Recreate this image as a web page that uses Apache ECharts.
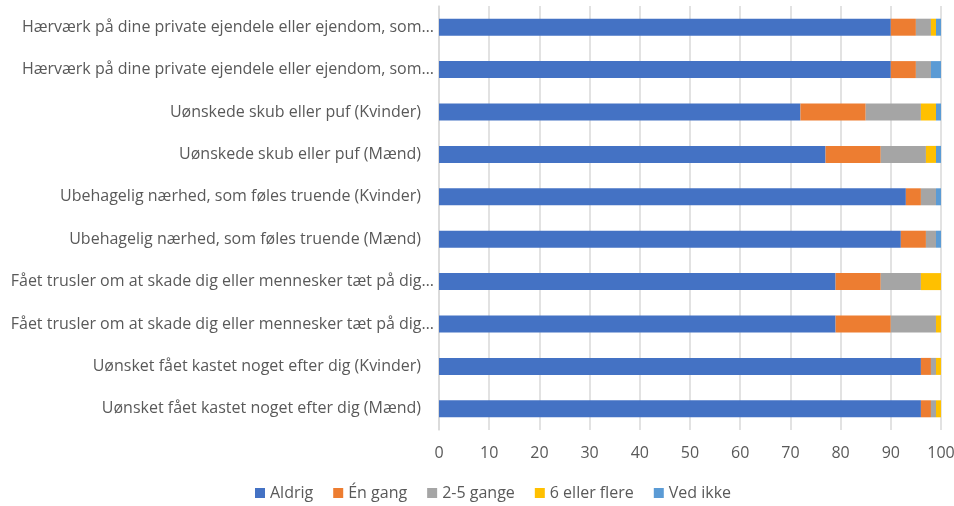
<!DOCTYPE html>
<html>
<head>
<meta charset="utf-8">
<script src="https://cdn.jsdelivr.net/npm/echarts@6/dist/echarts.min.js"></script>
<style>
html,body{margin:0;padding:0;background:#fff;}
#main{width:954px;height:506px;}
</style>
</head>
<body>
<div id="main"></div>
<script>
// kategorier, oppefra og ned
var categories = [
	'Hærværk på dine private ejendele eller ejendom, som…',
	'Hærværk på dine private ejendele eller ejendom, som…',
	'Uønskede skub eller puf (Kvinder)',
	'Uønskede skub eller puf (Mænd)',
	'Ubehagelig nærhed, som føles truende (Kvinder)',
	'Ubehagelig nærhed, som føles truende (Mænd)',
	'Fået trusler om at skade dig eller mennesker tæt på dig…',
	'Fået trusler om at skade dig eller mennesker tæt på dig…',
	'Uønsket fået kastet noget efter dig (Kvinder)',
	'Uønsket fået kastet noget efter dig (Mænd)'
];
var seriesNames = ['Aldrig', 'Én gang', '2-5 gange', '6 eller flere', 'Ved ikke'];
var aldrig     = [90, 90, 72, 77, 93, 92, 79, 79, 96, 96];
var enGang     = [5, 5, 13, 11, 3, 5, 9, 11, 2, 2];
var toFemGange = [3, 3, 11, 9, 3, 2, 8, 9, 1, 1];
var seksFlere  = [1, 0, 3, 2, 0, 0, 4, 1, 1, 1];
var vedIkke    = [1, 2, 1, 1, 1, 1, 0, 0, 0, 0];
var xTicks = [0, 10, 20, 30, 40, 50, 60, 70, 80, 90, 100];

var colors = ['#4472C4', '#ED7D31', '#A5A5A5', '#FFC000', '#5B9BD5'];
var values = [aldrig, enGang, toFemGange, seksFlere, vedIkke];
var font = '"Open Sans", sans-serif';

var myChart = echarts.init(document.getElementById('main'));

// afkortede etiketter står tættere på aksen (som i Excel)
var catData = categories.map(function(c){
	var cut = c.charAt(c.length - 1) === '…';
	return {value: c, textStyle: {padding: [0, cut ? 0 : 13, 0, 0]}};
});

var series = [];
for (var i = 0; i < seriesNames.length; i++) {
	series.push({
		name: seriesNames[i],
		type: 'bar',
		stack: 'total',
		barWidth: 17,
		itemStyle: {color: colors[i]},
		data: values[i]
	});
}

var option = {
	animation: false,
	color: colors,
	grid: {left: 439, right: 13, top: 6, bottom: 76, outerBoundsMode: 'none'},
	legend: {
		bottom: 0,
		left: 250,
		itemWidth: 10,
		itemHeight: 10,
		itemGap: 20,
		icon: 'rect',
		textStyle: {color: '#595959', fontSize: 16, fontFamily: font},
		data: seriesNames
	},
	xAxis: {
		type: 'value',
		min: xTicks[0],
		max: xTicks[xTicks.length - 1],
		interval: 10,
		axisLine: {show: false},
		axisTick: {show: false},
		axisLabel: {color: '#595959', fontSize: 16, fontFamily: font, margin: 15},
		splitLine: {lineStyle: {color: '#d9d9d9', width: 1.5}}
	},
	yAxis: {
		type: 'category',
		inverse: true,
		data: catData,
		axisLine: {show: true, lineStyle: {color: '#d9d9d9', width: 1.5}},
		axisTick: {show: false},
		axisLabel: {color: '#595959', fontSize: 16, fontFamily: font, margin: 5}
	},
	series: series
};
myChart.setOption(option);
</script>
</body>
</html>
